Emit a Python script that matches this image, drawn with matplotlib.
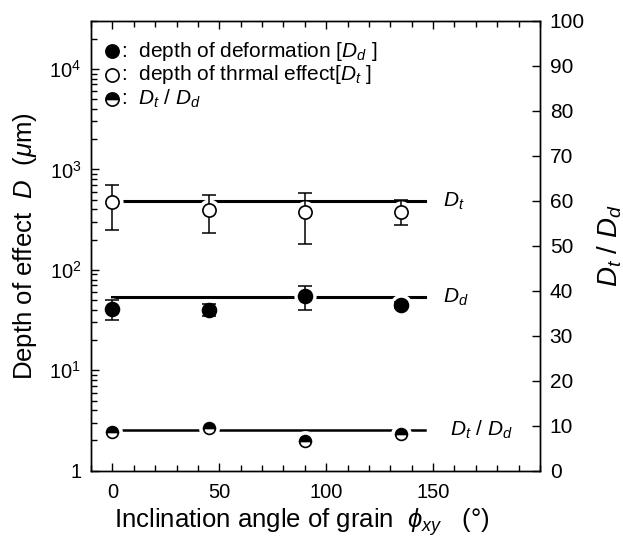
import matplotlib
matplotlib.use("Agg")
import matplotlib.pyplot as plt
from matplotlib.ticker import FixedLocator, MultipleLocator, LogLocator, NullFormatter, FixedFormatter

# data
angles = [0, 45, 90, 135]
depth_t = [473, 394, 379, 376]
depth_t_lo = [248, 230, 179, 279]
depth_t_hi = [694, 555, 577, 491]
depth_d = [40.8, 39.5, 55.4, 45.0]
depth_d_lo = [31.7, 34.4, 39.5, 42.0]
depth_d_hi = [49.7, 45.8, 69.7, 48.3]
ratio = [8.5, 9.4, 6.6, 8.2]

# mean levels drawn as horizontal lines
level_t = 484
level_d = 53.8
level_ratio = 9.05
level_x = [0, 146]

plt.rcParams.update(
    {
        "font.family": ["Liberation Sans", "DejaVu Sans"],
        "mathtext.fontset": "custom",
        "mathtext.rm": "Liberation Sans",
        "mathtext.it": "Liberation Sans:italic",
        "mathtext.bf": "Liberation Sans:bold",
        "font.size": 14,
        "axes.linewidth": 1.0,
    }
)

fig = plt.figure(figsize=(6.23, 5.41), dpi=100)
ax = fig.add_axes([0.1461, 0.1299, 0.8668 - 0.1461, 0.9612 - 0.1299])
ax2 = ax.twinx()


def errs(v, lo, hi):
    return [[a - b for a, b in zip(v, lo)], [c - a for a, c in zip(v, hi)]]


# horizontal mean lines with white gaps around markers
ax.plot(level_x, [level_t, level_t], color="black", lw=2.2, zorder=1)
ax.plot(level_x, [level_d, level_d], color="black", lw=2.2, zorder=1)
ax.plot(angles, depth_t, "o", ms=16, mfc="white", mec="none", zorder=2)
ax.plot(angles, depth_d, "o", ms=16, mfc="white", mec="none", zorder=2)

ax.errorbar(angles, depth_t, yerr=errs(depth_t, depth_t_lo, depth_t_hi), fmt="none",
            ecolor="black", elinewidth=1.1, capsize=5, capthick=1.1, zorder=3)
ax.errorbar(angles, depth_d, yerr=errs(depth_d, depth_d_lo, depth_d_hi), fmt="none",
            ecolor="black", elinewidth=1.1, capsize=5, capthick=1.1, zorder=3)
ax.plot(angles, depth_t, "o", ms=9.5, mfc="white", mec="black", mew=1.2, zorder=4)
ax.plot(angles, depth_d, "o", ms=10, mfc="black", mec="black", mew=1.2, zorder=4)

ax2.plot(level_x, [level_ratio, level_ratio], color="black", lw=1.8, zorder=1)
ax2.plot(angles, ratio, "o", ms=15, mfc="white", mec="none", zorder=2)
ax2.plot(angles, ratio, "o", ms=8.5, fillstyle="top", mfc="black", mfcalt="white",
         mec="black", mew=1.2, zorder=4)

ax.set_yscale("log")
ax.set_xlim(-10, 200)
ax.set_ylim(1, 3e4)
ax2.set_ylim(0, 100)

ax.xaxis.set_major_locator(FixedLocator([0, 50, 100, 150]))
ax.xaxis.set_minor_locator(MultipleLocator(10))
ax.yaxis.set_major_locator(FixedLocator([1, 10, 100, 1000, 10000]))
ax.yaxis.set_major_formatter(FixedFormatter(
    ["1", r"$\mathdefault{10^{1}}$", r"$\mathdefault{10^{2}}$",
     r"$\mathdefault{10^{3}}$", r"$\mathdefault{10^{4}}$"]))
ax.yaxis.set_minor_locator(LogLocator(base=10, subs=range(2, 10), numticks=20))
ax.yaxis.set_minor_formatter(NullFormatter())
ax2.yaxis.set_major_locator(MultipleLocator(10))

ax.tick_params(which="both", direction="in", top=True, right=False, labelsize=14.5, width=1.0)
ax.tick_params(which="major", length=5.5)
ax.tick_params(which="minor", length=4)
ax.tick_params(axis="x", which="major", pad=9)
ax.tick_params(axis="y", which="major", pad=7)
ax2.tick_params(direction="in", length=5.5, width=1.0, labelsize=15, pad=7)

ax.set_xlabel(r"Inclination angle of grain  $\phi_{xy}$   (°)", fontsize=18.5)
ax.xaxis.set_label_coords(0.47, -0.078)
ax.set_ylabel(r"Depth of effect  $D$  ($\mu$m)", fontsize=18.5, labelpad=7)
ax2.set_ylabel(r"$D_t$ / $D_d$", fontsize=20, rotation=90, labelpad=8)

# curve labels
ax.text(154.5, level_t, r"$D_t$", fontsize=15, va="center", ha="left")
ax.text(154.5, level_d, r"$D_d$", fontsize=15, va="center", ha="left")
ax2.text(158, level_ratio, r"$D_t$ / $D_d$", fontsize=15, va="center", ha="left")

# hand-made legend
legend_rows = [
    (dict(mfc="black"), r":  depth of deformation [$D_d$ ]"),
    (dict(mfc="white"), r":  depth of thrmal effect[$D_t$ ]"),
    (dict(fillstyle="top", mfc="black", mfcalt="white"), r":  $D_t$ / $D_d$"),
]
for i, (style, label) in enumerate(legend_rows):
    y = 0.933 - i * 0.053
    ax.plot([0.046], [y], "o", ms=9.5, mec="black", mew=1.2, transform=ax.transAxes,
            clip_on=False, **style)
    ax.text(0.066, y, label, fontsize=15, va="center", ha="left", transform=ax.transAxes)

fig.savefig("out.png", dpi=100)
